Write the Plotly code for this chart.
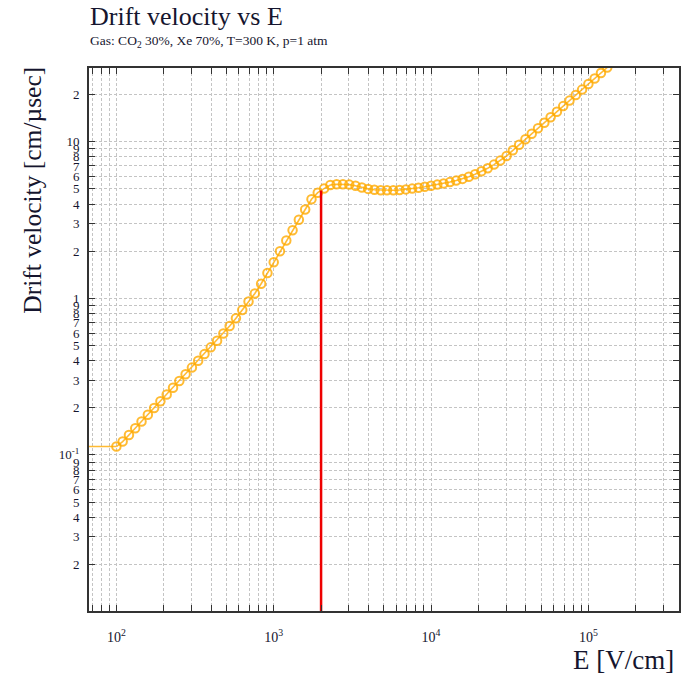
import plotly.graph_objects as go

# ---- data ----
E_field = [100, 109.6, 120.2, 131.8, 144.5, 158.5, 173.8, 190.5, 208.9, 229.1,
           251.2, 275.4, 302.0, 331.1, 363.1, 398.1, 436.5, 478.6, 524.8, 575.4,
           631.0, 691.8, 758.6, 831.8, 912.0, 1000, 1096, 1202, 1318, 1445,
           1585, 1738, 1905, 2089, 2291, 2512, 2754, 3020, 3311, 3631,
           3981, 4365, 4786, 5248, 5754, 6310, 6918, 7586, 8318, 9120,
           10000, 10960, 12020, 13180, 14450, 15850, 17380, 19050, 20890, 22910,
           25120, 27540, 30200, 33110, 36310, 39810, 43650, 47860, 52480, 57540,
           63100, 69180, 75860, 83180, 91200, 100000, 109600, 120200, 131800]
velocity = [0.1131, 0.1216, 0.1340, 0.1481, 0.1634, 0.1805, 0.1993, 0.2200, 0.2430, 0.2686,
            0.2963, 0.3271, 0.3609, 0.3991, 0.4402, 0.4859, 0.5360, 0.5959, 0.6654, 0.7462,
            0.8420, 0.9541, 1.073, 1.238, 1.451, 1.700, 1.995, 2.339, 2.718, 3.171,
            3.690, 4.288, 4.725, 5.018, 5.290, 5.345, 5.353, 5.322, 5.229, 5.100,
            4.996, 4.930, 4.901, 4.894, 4.894, 4.915, 4.958, 5.018, 5.077, 5.152,
            5.229, 5.322, 5.416, 5.521, 5.644, 5.787, 5.977, 6.201, 6.471, 6.772,
            7.140, 7.572, 8.103, 8.812, 9.554, 10.36, 11.25, 12.20, 13.22, 14.33,
            15.55, 16.88, 18.30, 19.85, 21.51, 23.33, 25.33, 27.47, 29.78]
stub_E = [60, 100]
stub_v = [0.1131, 0.1131]
marker_E = [2000, 2000]
marker_v = [0.0099, 4.87]

# axis ticks
x_tickvals = [m * 10 ** d for d in range(1, 6) for m in range(1, 10)]
x_ticktext = [("10<sup>%d</sup>" % d if m == 1 else "") for d in range(1, 6) for m in range(1, 10)]
y_tickvals = [m * 10 ** d for d in (-2, -1, 0, 1) for m in range(1, 10)]
y_ticktext = ["", "2", "3", "4", "5", "6", "7", "8", "9",
              "10<sup>-1</sup>", "2", "3", "4", "5", "6", "7", "8", "9",
              "1", "2", "3", "4", "5", "6", "7", "8", "9",
              "10", "2", "3", "4", "5", "6", "7", "8", "9"]

SERIF = "Liberation Serif"
TXT = "#15152e"
ORANGE = "rgba(255,170,0,0.8)"

fig = go.Figure()
fig.add_trace(go.Scatter(x=stub_E, y=stub_v, mode="lines",
                         line=dict(color=ORANGE, width=1.6), showlegend=False))
fig.add_trace(go.Scatter(x=E_field, y=velocity, mode="lines+markers",
                         line=dict(color=ORANGE, width=1.6),
                         marker=dict(symbol="circle-open", size=8.5,
                                     line=dict(color=ORANGE, width=2)),
                         showlegend=False))
fig.add_trace(go.Scatter(x=marker_E, y=marker_v, mode="lines",
                         line=dict(color="#ee0000", width=2.5), showlegend=False))

grid = dict(showgrid=True, gridcolor="#c4c4c4", gridwidth=1, griddash="3px,2px")
axis_common = dict(type="log", showline=True, linecolor="#333333", linewidth=2,
                   mirror="allticks", ticks="inside", ticklen=6, tickwidth=1,
                   tickcolor="#333333", zeroline=False, **grid)

fig.update_xaxes(range=[1.826, 5.576], tickmode="array", tickvals=x_tickvals,
                 ticktext=x_ticktext, ticklabelstandoff=12,
                 tickfont=dict(family=SERIF, size=14, color=TXT), **axis_common)
fig.update_yaxes(range=[-1.997, 1.4706], tickmode="array", tickvals=y_tickvals,
                 ticktext=y_ticktext, ticklabelstandoff=5,
                 tickfont=dict(family=SERIF, size=13, color=TXT), **axis_common)

fig.update_layout(
    width=690, height=674,
    margin=dict(l=89, r=9, t=68, b=63),
    plot_bgcolor="white", paper_bgcolor="white",
    showlegend=False,
    annotations=[
        dict(text="Drift velocity vs E", xref="paper", yref="paper",
             x=-1 / 592, y=1 + 51 / 543, xanchor="left", yanchor="middle",
             showarrow=False, font=dict(family=SERIF, size=26, color=TXT)),
        dict(text="Gas: CO<sub>2</sub> 30%, Xe 70%, T=300 K, p=1 atm", xref="paper", yref="paper",
             x=-1 / 592, y=1 + 26 / 543, xanchor="left", yanchor="middle",
             showarrow=False, font=dict(family=SERIF, size=13.5, color=TXT)),
        dict(text="Drift velocity [cm/µsec]", xref="paper", yref="paper",
             x=-57 / 592, y=1 + 3 / 543, xanchor="center", yanchor="top",
             textangle=-90, showarrow=False,
             font=dict(family=SERIF, size=25.5, color=TXT)),
        dict(text="E [V/cm]", xref="paper", yref="paper",
             x=1 - 3 / 592, y=-49 / 543, xanchor="right", yanchor="middle",
             showarrow=False, font=dict(family=SERIF, size=27, color=TXT)),
    ],
)

fig.write_html("out.html")
